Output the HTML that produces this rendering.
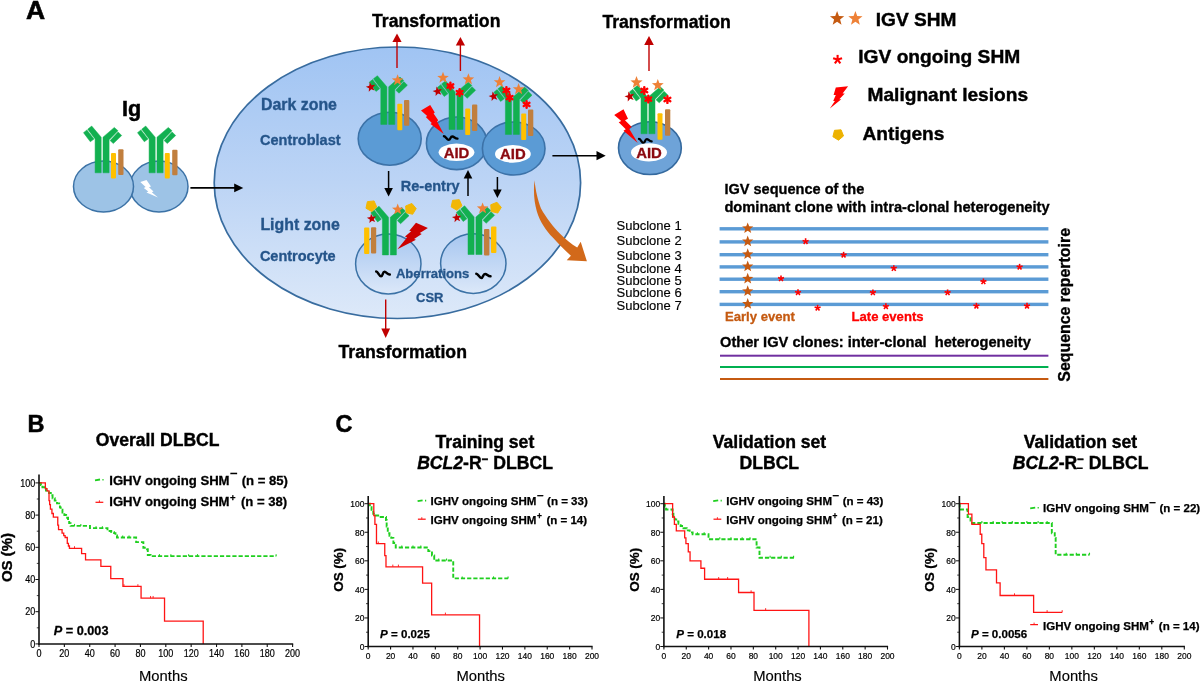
<!DOCTYPE html>
<html><head><meta charset="utf-8"><title>Figure</title>
<style>html,body{margin:0;padding:0;background:#fff}svg{display:block}text{font-family:"Liberation Sans",Arial,sans-serif}</style>
</head><body>
<svg width="1200" height="682" viewBox="0 0 1200 682">
<defs>
<linearGradient id="gc" x1="0" y1="0" x2="0" y2="1">
<stop offset="0" stop-color="#A0C4F3"/><stop offset="0.5" stop-color="#BCD4F5"/><stop offset="1" stop-color="#DDE9F9"/>
</linearGradient>
<linearGradient id="lz" x1="0" y1="0" x2="0" y2="1">
<stop offset="0" stop-color="#A6C6F0"/><stop offset="1" stop-color="#DCE8F9"/>
</linearGradient>
</defs>
<rect width="1200" height="682" fill="#fff"/>

<text x="26" y="19" font-size="26.5" font-weight="bold" fill="#000" stroke="#000" stroke-width="0.58" text-anchor="start" >A</text>
<text x="122" y="116" font-size="21.6" font-weight="bold" fill="#000" stroke="#000" stroke-width="0.48" text-anchor="start" >Ig</text>
<ellipse cx="397.4" cy="182.75" rx="183.2" ry="135.75" fill="url(#gc)" stroke="#386C9F" stroke-width="1.7"/>
<ellipse cx="159" cy="186.5" rx="29" ry="25.5" fill="#9DC3E6" stroke="#3B72A6" stroke-width="1.5"/>
<ellipse cx="103.5" cy="186.5" rx="30" ry="25.5" fill="#9DC3E6" stroke="#3B72A6" stroke-width="1.5"/>
<g fill="#12B050" stroke="#12B050" stroke-width="0.5" stroke-linejoin="round"><polygon points="101.20,172.80 95.10,172.80 95.10,138.95 87.70,129.15 91.70,126.05 101.20,137.15"/><polygon points="83.50,132.65 86.90,129.95 94.00,139.05 90.30,141.75"/><polygon points="103.00,172.80 109.10,172.80 109.10,139.85 118.00,130.75 114.30,127.45 103.00,137.15"/><polygon points="118.10,131.95 121.70,135.55 113.30,143.55 110.10,140.55"/></g>
<rect x="111" y="153" width="5" height="25.599999999999994" rx="1" fill="#FFC000"/><rect x="118.2" y="149.3" width="5.3" height="25.599999999999994" rx="1" fill="#C17F3E"/>
<g fill="#12B050" stroke="#12B050" stroke-width="0.5" stroke-linejoin="round"><polygon points="155.20,172.80 149.10,172.80 149.10,138.95 141.70,129.15 145.70,126.05 155.20,137.15"/><polygon points="137.50,132.65 140.90,129.95 148.00,139.05 144.30,141.75"/><polygon points="157.00,172.80 163.10,172.80 163.10,139.85 172.00,130.75 168.30,127.45 157.00,137.15"/><polygon points="172.10,131.95 175.70,135.55 167.30,143.55 164.10,140.55"/></g>
<rect x="164.8" y="153" width="5" height="25.599999999999994" rx="1" fill="#FFC000"/><rect x="172.2" y="149.8" width="5.3" height="25.399999999999977" rx="1" fill="#C17F3E"/>
<polygon points="140.3,182 146.5,180 151,186.5 149,187.3 153.5,191.5 151.8,192.3 158,197.5 146.5,192.5 148.3,191.5 143.8,188 145.6,187" fill="#fff"/>
<line x1="190.4" y1="187.9" x2="235.20" y2="187.90" stroke="#000" stroke-width="1.6"/><polygon points="243.30,187.90 234.20,192.20 234.20,183.60" fill="#000"/>
<text x="261" y="109.7" font-size="15.9" font-weight="bold" fill="#25558A" stroke="#25558A" stroke-width="0.35" text-anchor="start" >Dark zone</text>
<text x="260" y="144.5" font-size="14.5" font-weight="bold" fill="#25558A" stroke="#25558A" stroke-width="0.32" text-anchor="start" >Centroblast</text>
<text x="260.4" y="230.4" font-size="15.9" font-weight="bold" fill="#25558A" stroke="#25558A" stroke-width="0.35" text-anchor="start" >Light zone</text>
<text x="259.9" y="260.6" font-size="14.5" font-weight="bold" fill="#25558A" stroke="#25558A" stroke-width="0.32" text-anchor="start" >Centrocyte</text>
<text x="372" y="26.8" font-size="17.65" font-weight="bold" fill="#000" stroke="#000" stroke-width="0.39" text-anchor="start" >Transformation</text>
<text x="602.4" y="28.3" font-size="17.65" font-weight="bold" fill="#000" stroke="#000" stroke-width="0.39" text-anchor="start" >Transformation</text>
<text x="338.5" y="357.8" font-size="17.65" font-weight="bold" fill="#000" stroke="#000" stroke-width="0.39" text-anchor="start" >Transformation</text>
<line x1="397" y1="68" x2="397.00" y2="41.00" stroke="#C00000" stroke-width="1.4"/><polygon points="397.00,33.60 401.60,42.00 392.40,42.00" fill="#C00000"/>
<line x1="460.4" y1="71" x2="460.40" y2="44.60" stroke="#C00000" stroke-width="1.4"/><polygon points="460.40,37.00 465.00,45.60 455.80,45.60" fill="#C00000"/>
<line x1="649" y1="71" x2="649.00" y2="44.00" stroke="#C00000" stroke-width="1.4"/><polygon points="649.00,36.00 653.80,45.00 644.20,45.00" fill="#C00000"/>
<line x1="385.7" y1="299.6" x2="385.70" y2="329.40" stroke="#C00000" stroke-width="1.4"/><polygon points="385.70,337.90 381.30,328.40 390.10,328.40" fill="#C00000"/>
<ellipse cx="389.7" cy="138.7" rx="31.5" ry="26.5" fill="#5B9BD5" stroke="#3C72A8" stroke-width="1.6"/>
<ellipse cx="456.7" cy="143.3" rx="30.3" ry="26.3" fill="#5B9BD5" stroke="#3C72A8" stroke-width="1.6"/>
<ellipse cx="513.7" cy="148.5" rx="31.3" ry="26.5" fill="#5B9BD5" stroke="#3C72A8" stroke-width="1.6"/>
<ellipse cx="388.3" cy="263.9" rx="32.7" ry="30" fill="url(#lz)" stroke="#3B72A6" stroke-width="1.5"/>
<ellipse cx="473.3" cy="263.6" rx="32.7" ry="29.8" fill="url(#lz)" stroke="#3B72A6" stroke-width="1.5"/>
<g fill="#12B050" stroke="#12B050" stroke-width="0.5" stroke-linejoin="round"><polygon points="386.90,124.40 380.80,124.40 380.80,88.60 373.40,78.80 377.40,75.70 386.90,86.80"/><polygon points="369.20,82.30 372.60,79.60 379.70,88.70 376.00,91.40"/><polygon points="388.70,124.40 394.80,124.40 394.80,89.50 403.70,80.40 400.00,77.10 388.70,86.80"/><polygon points="403.80,81.60 407.40,85.20 399.00,93.20 395.80,90.20"/></g>
<rect x="397.3" y="103.7" width="5" height="26.499999999999986" rx="1" fill="#FFC000"/><rect x="404" y="100" width="5.3" height="25.700000000000003" rx="1" fill="#C17F3E"/>
<polygon points="369.76,82.31 371.65,85.28 375.13,84.70 372.89,87.42 374.52,90.55 371.24,89.25 368.77,91.77 368.98,88.25 365.83,86.68 369.24,85.79" fill="#C00000"/>
<polygon points="397.60,74.20 399.11,78.23 403.40,78.41 400.04,81.09 401.19,85.24 397.60,82.86 394.01,85.24 395.16,81.09 391.80,78.41 396.09,78.23" fill="#EE8137"/>
<g fill="#12B050" stroke="#12B050" stroke-width="0.5" stroke-linejoin="round"><polygon points="455.10,129.50 449.00,129.50 449.00,93.70 441.60,83.90 445.60,80.80 455.10,91.90"/><polygon points="437.40,87.40 440.80,84.70 447.90,93.80 444.20,96.50"/><polygon points="456.90,129.50 463.00,129.50 463.00,94.60 471.90,85.50 468.20,82.20 456.90,91.90"/><polygon points="472.00,86.70 475.60,90.30 467.20,98.30 464.00,95.30"/></g>
<rect x="465.2" y="108.6" width="5" height="26.400000000000006" rx="1" fill="#FFC000"/><rect x="472" y="104.6" width="5.3" height="26.400000000000006" rx="1" fill="#C17F3E"/>
<polygon points="443.00,71.70 444.51,75.73 448.80,75.91 445.44,78.59 446.59,82.74 443.00,80.36 439.41,82.74 440.56,78.59 437.20,75.91 441.49,75.73" fill="#EE8137"/>
<polygon points="468.40,73.30 469.91,77.33 474.20,77.51 470.84,80.19 471.99,84.34 468.40,81.96 464.81,84.34 465.96,80.19 462.60,77.51 466.89,77.33" fill="#EE8137"/>
<polygon points="436.56,86.51 438.45,89.48 441.93,88.90 439.69,91.62 441.32,94.75 438.04,93.45 435.57,95.97 435.78,92.45 432.63,90.88 436.04,89.99" fill="#C00000"/>
<g stroke="#FF0000" stroke-width="2.4" stroke-linecap="round"><line x1="450.40" y1="86.00" x2="450.40" y2="82.70"/><line x1="450.40" y1="86.00" x2="453.26" y2="84.35"/><line x1="450.40" y1="86.00" x2="453.26" y2="87.65"/><line x1="450.40" y1="86.00" x2="450.40" y2="89.30"/><line x1="450.40" y1="86.00" x2="447.54" y2="87.65"/><line x1="450.40" y1="86.00" x2="447.54" y2="84.35"/></g>
<g stroke="#FF0000" stroke-width="2.4" stroke-linecap="round"><line x1="459.60" y1="92.60" x2="459.60" y2="89.30"/><line x1="459.60" y1="92.60" x2="462.46" y2="90.95"/><line x1="459.60" y1="92.60" x2="462.46" y2="94.25"/><line x1="459.60" y1="92.60" x2="459.60" y2="95.90"/><line x1="459.60" y1="92.60" x2="456.74" y2="94.25"/><line x1="459.60" y1="92.60" x2="456.74" y2="90.95"/></g>
<polygon points="421.00,110.40 430.20,104.90 434.80,112.60 433.60,113.50 438.20,120.30 437.10,121.40 443.75,133.90 430.50,124.00 431.80,122.90 425.80,117.00 427.20,115.90" fill="#FF0000"/>
<path d="M443.90,136.26 C445.77,136.26 446.76,139.94 448.73,139.94 C450.70,139.94 450.11,136.49 452.28,136.49 C454.25,136.49 455.04,138.71 457.50,138.56" fill="none" stroke="#000" stroke-width="2.3" stroke-linecap="round" stroke-linejoin="round"/>
<g fill="#12B050" stroke="#12B050" stroke-width="0.5" stroke-linejoin="round"><polygon points="511.50,134.40 505.40,134.40 505.40,98.60 498.00,88.80 502.00,85.70 511.50,96.80"/><polygon points="493.80,92.30 497.20,89.60 504.30,98.70 500.60,101.40"/><polygon points="513.30,134.40 519.40,134.40 519.40,99.50 528.30,90.40 524.60,87.10 513.30,96.80"/><polygon points="528.40,91.60 532.00,95.20 523.60,103.20 520.40,100.20"/></g>
<rect x="521.2" y="113.6" width="5" height="26.400000000000006" rx="1" fill="#FFC000"/><rect x="528" y="109.6" width="5.3" height="26.400000000000006" rx="1" fill="#C17F3E"/>
<polygon points="499.60,76.10 501.11,80.13 505.40,80.31 502.04,82.99 503.19,87.14 499.60,84.76 496.01,87.14 497.16,82.99 493.80,80.31 498.09,80.13" fill="#EE8137"/>
<polygon points="518.60,83.10 520.11,87.13 524.40,87.31 521.04,89.99 522.19,94.14 518.60,91.76 515.01,94.14 516.16,89.99 512.80,87.31 517.09,87.13" fill="#EE8137"/>
<polygon points="492.56,91.51 494.45,94.48 497.93,93.90 495.69,96.62 497.32,99.75 494.04,98.45 491.57,100.97 491.78,97.45 488.63,95.88 492.04,94.99" fill="#C00000"/>
<g stroke="#FF0000" stroke-width="2.4" stroke-linecap="round"><line x1="506.40" y1="90.40" x2="506.40" y2="87.10"/><line x1="506.40" y1="90.40" x2="509.26" y2="88.75"/><line x1="506.40" y1="90.40" x2="509.26" y2="92.05"/><line x1="506.40" y1="90.40" x2="506.40" y2="93.70"/><line x1="506.40" y1="90.40" x2="503.54" y2="92.05"/><line x1="506.40" y1="90.40" x2="503.54" y2="88.75"/></g>
<g stroke="#FF0000" stroke-width="2.4" stroke-linecap="round"><line x1="509.60" y1="97.60" x2="509.60" y2="94.30"/><line x1="509.60" y1="97.60" x2="512.46" y2="95.95"/><line x1="509.60" y1="97.60" x2="512.46" y2="99.25"/><line x1="509.60" y1="97.60" x2="509.60" y2="100.90"/><line x1="509.60" y1="97.60" x2="506.74" y2="99.25"/><line x1="509.60" y1="97.60" x2="506.74" y2="95.95"/></g>
<g stroke="#FF0000" stroke-width="2.4" stroke-linecap="round"><line x1="526.60" y1="104.40" x2="526.60" y2="101.10"/><line x1="526.60" y1="104.40" x2="529.46" y2="102.75"/><line x1="526.60" y1="104.40" x2="529.46" y2="106.05"/><line x1="526.60" y1="104.40" x2="526.60" y2="107.70"/><line x1="526.60" y1="104.40" x2="523.74" y2="106.05"/><line x1="526.60" y1="104.40" x2="523.74" y2="102.75"/></g>
<ellipse cx="456.5" cy="152.3" rx="17.9" ry="8.7" fill="#fff"/><text x="456.5" y="157.65" font-size="14.9" font-weight="bold" fill="#8B0A10" stroke="#8B0A10" stroke-width="0.33" text-anchor="middle" >AID</text>
<ellipse cx="512.9" cy="153.9" rx="17.9" ry="8.8" fill="#fff"/><text x="512.9" y="159.25" font-size="14.9" font-weight="bold" fill="#8B0A10" stroke="#8B0A10" stroke-width="0.33" text-anchor="middle" >AID</text>
<line x1="388.6" y1="171" x2="388.60" y2="189.00" stroke="#000" stroke-width="1.5"/><polygon points="388.60,196.40 384.30,188.00 392.90,188.00" fill="#000"/>
<line x1="468" y1="196" x2="468.00" y2="177.60" stroke="#000" stroke-width="1.5"/><polygon points="468.00,170.00 472.30,178.60 463.70,178.60" fill="#000"/>
<line x1="497.4" y1="177" x2="497.40" y2="190.60" stroke="#000" stroke-width="1.5"/><polygon points="497.40,198.00 493.10,189.60 501.70,189.60" fill="#000"/>
<text x="400.8" y="191.2" font-size="14.5" font-weight="bold" fill="#25558A" stroke="#25558A" stroke-width="0.32" text-anchor="start" >Re-entry</text>
<line x1="552.4" y1="155.7" x2="597.50" y2="155.70" stroke="#000" stroke-width="1.6"/><polygon points="605.70,155.70 596.50,160.30 596.50,151.10" fill="#000"/>
<g fill="#12B050" stroke="#12B050" stroke-width="0.5" stroke-linejoin="round"><polygon points="388.50,254.90 382.40,254.90 382.40,219.10 375.00,209.30 379.00,206.20 388.50,217.30"/><polygon points="370.80,212.80 374.20,210.10 381.30,219.20 377.60,221.90"/><polygon points="390.30,254.90 396.40,254.90 396.40,220.00 405.30,210.90 401.60,207.60 390.30,217.30"/><polygon points="405.40,212.10 409.00,215.70 400.60,223.70 397.40,220.70"/></g>
<rect x="364.1" y="227.4" width="5.2" height="26.7" rx="1" fill="#FFC000"/><rect x="371" y="227.2" width="5.2" height="26.2" rx="1" fill="#C17F3E"/>
<polygon points="371.80,211.57 365.99,208.22 367.39,201.66 374.05,200.96 376.78,207.09" fill="#F2B705" stroke="#F2B705" stroke-width="1" stroke-linejoin="round"/>
<polygon points="411.88,203.47 416.19,208.60 412.64,214.28 406.13,212.66 405.67,205.98" fill="#F2B705" stroke="#F2B705" stroke-width="1" stroke-linejoin="round"/>
<polygon points="397.70,203.50 399.18,207.46 403.41,207.65 400.10,210.28 401.23,214.35 397.70,212.02 394.17,214.35 395.30,210.28 391.99,207.65 396.22,207.46" fill="#EE8137"/>
<polygon points="371.02,213.75 372.67,216.78 376.10,216.45 373.73,218.96 375.10,222.12 371.99,220.64 369.40,222.93 369.85,219.50 366.87,217.75 370.27,217.12" fill="#C00000"/>
<polygon points="416.00,222.80 409.30,230.70 411.20,231.20 405.00,236.50 407.00,237.40 397.40,249.30 416.00,239.80 414.10,238.90 421.70,234.10 419.80,233.10 427.90,227.90" fill="#CC0000"/>
<g fill="#12B050" stroke="#12B050" stroke-width="0.5" stroke-linejoin="round"><polygon points="474.10,254.50 468.00,254.50 468.00,218.70 460.60,208.90 464.60,205.80 474.10,216.90"/><polygon points="456.40,212.40 459.80,209.70 466.90,218.80 463.20,221.50"/><polygon points="475.90,254.50 482.00,254.50 482.00,219.60 490.90,210.50 487.20,207.20 475.90,216.90"/><polygon points="491.00,211.70 494.60,215.30 486.20,223.30 483.00,220.30"/></g>
<rect x="484" y="229" width="5.4" height="26.6" rx="1" fill="#C17F3E"/><rect x="491" y="226.4" width="5.4" height="26.6" rx="1" fill="#FFC000"/>
<polygon points="457.00,210.27 451.19,206.92 452.59,200.36 459.25,199.66 461.98,205.79" fill="#F2B705" stroke="#F2B705" stroke-width="1" stroke-linejoin="round"/>
<polygon points="496.98,202.27 501.29,207.40 497.74,213.08 491.23,211.46 490.77,204.78" fill="#F2B705" stroke="#F2B705" stroke-width="1" stroke-linejoin="round"/>
<polygon points="482.60,202.40 484.08,206.36 488.31,206.55 485.00,209.18 486.13,213.25 482.60,210.92 479.07,213.25 480.20,209.18 476.89,206.55 481.12,206.36" fill="#EE8137"/>
<polygon points="456.12,212.95 457.77,215.98 461.20,215.65 458.83,218.16 460.20,221.32 457.09,219.84 454.50,222.13 454.95,218.70 451.97,216.95 455.37,216.32" fill="#C00000"/>
<path d="M376.20,271.50 C378.07,271.50 379.06,276.30 381.03,276.30 C383.00,276.30 382.41,271.80 384.58,271.80 C386.55,271.80 387.34,274.70 389.80,274.50" fill="none" stroke="#000" stroke-width="2.5" stroke-linecap="round" stroke-linejoin="round"/>
<path d="M476.31,273.72 C478.26,273.72 479.29,277.88 481.34,277.88 C483.40,277.88 482.78,273.98 485.04,273.98 C487.10,273.98 487.92,276.49 490.49,276.32" fill="none" stroke="#000" stroke-width="2.5" stroke-linecap="round" stroke-linejoin="round"/>
<text x="395.9" y="278.4" font-size="13.1" font-weight="bold" fill="#25558A" stroke="#25558A" stroke-width="0.29" text-anchor="start" >Aberrations</text>
<text x="416" y="301.8" font-size="13" font-weight="bold" fill="#25558A" stroke="#25558A" stroke-width="0.29" text-anchor="start" >CSR</text>
<path d="M534.5,180.3 C533.2,192 534.3,202.5 536.8,211.2 C540,222 546,230.5 552.8,237.6 C558.5,243.8 565,250.8 570.9,255.7 L566.75,260.2 L586.9,261.3 L580.7,241.8 L577.2,247.6 C571.5,243.8 565,238.8 559.8,233.4 C553.5,227 546,217.5 541,208.4 C538,201 535.6,191 534.5,180.3 Z" fill="#D2691A"/>
<ellipse cx="649.9" cy="148.1" rx="31.4" ry="26.4" fill="#6EA3D8" stroke="#34699E" stroke-width="1.6"/>
<g fill="#12B050" stroke="#12B050" stroke-width="0.5" stroke-linejoin="round"><polygon points="647.10,133.75 641.00,133.75 641.00,98.25 633.60,88.45 637.60,85.35 647.10,96.45"/><polygon points="629.40,91.95 632.80,89.25 639.90,98.35 636.20,101.05"/><polygon points="648.90,133.75 655.00,133.75 655.00,99.15 663.90,90.05 660.20,86.75 648.90,96.45"/><polygon points="664.00,91.25 667.60,94.85 659.20,102.85 656.00,99.85"/></g>
<rect x="657.5" y="113.2" width="5" height="26.549999999999997" rx="1" fill="#FFC000"/><rect x="665" y="109.3" width="5.3" height="26.39999999999999" rx="1" fill="#C17F3E"/>
<polygon points="636.50,76.10 638.08,80.33 642.59,80.52 639.06,83.33 640.26,87.68 636.50,85.19 632.74,87.68 633.94,83.33 630.41,80.52 634.92,80.33" fill="#EE8137"/>
<polygon points="657.80,79.00 659.33,83.09 663.70,83.28 660.28,86.00 661.44,90.22 657.80,87.80 654.16,90.22 655.32,86.00 651.90,83.28 656.27,83.09" fill="#EE8137"/>
<polygon points="628.44,91.55 630.52,94.58 634.11,93.84 631.88,96.75 633.68,99.94 630.23,98.72 627.75,101.42 627.85,97.76 624.51,96.24 628.03,95.20" fill="#C00000"/>
<g stroke="#FF0000" stroke-width="2.4" stroke-linecap="round"><line x1="644.30" y1="90.50" x2="644.30" y2="87.10"/><line x1="644.30" y1="90.50" x2="647.24" y2="88.80"/><line x1="644.30" y1="90.50" x2="647.24" y2="92.20"/><line x1="644.30" y1="90.50" x2="644.30" y2="93.90"/><line x1="644.30" y1="90.50" x2="641.36" y2="92.20"/><line x1="644.30" y1="90.50" x2="641.36" y2="88.80"/></g>
<g stroke="#FF0000" stroke-width="2.4" stroke-linecap="round"><line x1="648.30" y1="99.10" x2="648.30" y2="95.80"/><line x1="648.30" y1="99.10" x2="651.16" y2="97.45"/><line x1="648.30" y1="99.10" x2="651.16" y2="100.75"/><line x1="648.30" y1="99.10" x2="648.30" y2="102.40"/><line x1="648.30" y1="99.10" x2="645.44" y2="100.75"/><line x1="648.30" y1="99.10" x2="645.44" y2="97.45"/></g>
<g stroke="#FF0000" stroke-width="2.4" stroke-linecap="round"><line x1="667.40" y1="99.50" x2="667.40" y2="96.10"/><line x1="667.40" y1="99.50" x2="670.34" y2="97.80"/><line x1="667.40" y1="99.50" x2="670.34" y2="101.20"/><line x1="667.40" y1="99.50" x2="667.40" y2="102.90"/><line x1="667.40" y1="99.50" x2="664.46" y2="101.20"/><line x1="667.40" y1="99.50" x2="664.46" y2="97.80"/></g>
<polygon points="614.20,115.00 623.50,109.30 628.00,118.75 625.00,120.25 631.75,127.00 629.20,128.80 637.75,143.00 623.50,130.75 625.75,129.25 618.70,122.20 621.25,121.00" fill="#FF0000"/>
<path d="M638.98,138.90 C640.72,138.90 641.63,142.90 643.47,142.90 C645.30,142.90 644.75,139.15 646.77,139.15 C648.60,139.15 649.33,141.57 651.62,141.40" fill="none" stroke="#000" stroke-width="2.3" stroke-linecap="round" stroke-linejoin="round"/>
<ellipse cx="649" cy="152.4" rx="18" ry="9.1" fill="#fff"/><text x="649" y="157.75" font-size="14.9" font-weight="bold" fill="#8B0A10" stroke="#8B0A10" stroke-width="0.33" text-anchor="middle" >AID</text>
<polygon points="837.10,11.10 838.95,16.05 844.23,16.28 840.10,19.57 841.51,24.67 837.10,21.75 832.69,24.67 834.10,19.57 829.97,16.28 835.25,16.05" fill="#C55A11"/>
<polygon points="855.40,11.10 857.25,16.05 862.53,16.28 858.40,19.57 859.81,24.67 855.40,21.75 850.99,24.67 852.40,19.57 848.27,16.28 853.55,16.05" fill="#EE8137"/>
<text x="875.75" y="25.75" font-size="19.1" font-weight="bold" fill="#000" stroke="#000" stroke-width="0.42" text-anchor="start" >IGV SHM</text>
<g stroke="#FF0000" stroke-width="2.1" stroke-linecap="butt"><line x1="837.60" y1="59.60" x2="837.60" y2="54.90"/><line x1="837.60" y1="59.60" x2="842.07" y2="58.15"/><line x1="837.60" y1="59.60" x2="840.36" y2="63.40"/><line x1="837.60" y1="59.60" x2="834.84" y2="63.40"/><line x1="837.60" y1="59.60" x2="833.13" y2="58.15"/></g>
<text x="858.25" y="63" font-size="19.2" font-weight="bold" fill="#000" stroke="#000" stroke-width="0.42" text-anchor="start" >IGV ongoing SHM</text>
<polygon points="835.80,87.50 848.10,86.20 842.60,93.40 844.80,93.40 839.30,99.30 841.30,99.30 829.90,108.40 834.90,101.10 833.20,101.10 835.80,94.90 833.60,94.90" fill="#FF0000"/>
<text x="867.5" y="100.5" font-size="19.15" font-weight="bold" fill="#000" stroke="#000" stroke-width="0.42" text-anchor="start" >Malignant lesions</text>
<polygon points="838.49,140.19 832.91,136.70 834.50,130.31 841.07,129.85 843.53,135.95" fill="#EDB200" stroke="#EDB200" stroke-width="1" stroke-linejoin="round"/>
<text x="862.5" y="139.5" font-size="19.15" font-weight="bold" fill="#000" stroke="#000" stroke-width="0.42" text-anchor="start" >Antigens</text>
<text x="616.6" y="230" font-size="13" font-weight="normal" fill="#000" stroke="#000" stroke-width="0.15" text-anchor="start" >Subclone 1</text>
<text x="616.6" y="245" font-size="13" font-weight="normal" fill="#000" stroke="#000" stroke-width="0.15" text-anchor="start" >Subclone 2</text>
<text x="616.6" y="259.7" font-size="13" font-weight="normal" fill="#000" stroke="#000" stroke-width="0.15" text-anchor="start" >Subclone 3</text>
<text x="616.6" y="273.1" font-size="13" font-weight="normal" fill="#000" stroke="#000" stroke-width="0.15" text-anchor="start" >Subclone 4</text>
<text x="616.6" y="284.5" font-size="13" font-weight="normal" fill="#000" stroke="#000" stroke-width="0.15" text-anchor="start" >Subclone 5</text>
<text x="616.6" y="296.5" font-size="13" font-weight="normal" fill="#000" stroke="#000" stroke-width="0.15" text-anchor="start" >Subclone 6</text>
<text x="616.6" y="310.4" font-size="13" font-weight="normal" fill="#000" stroke="#000" stroke-width="0.15" text-anchor="start" >Subclone 7</text>
<text x="724.4" y="194.4" font-size="14.56" font-weight="bold" fill="#000" stroke="#000" stroke-width="0.32" text-anchor="start" >IGV sequence of the</text>
<text x="724.4" y="211.6" font-size="14.68" font-weight="bold" fill="#000" stroke="#000" stroke-width="0.32" text-anchor="start" >dominant clone with intra-clonal heterogeneity</text>
<rect x="719.6" y="227.10" width="328.8" height="3.4" fill="#5B9BD5"/>
<polygon points="747.70,222.40 749.16,226.30 753.31,226.48 750.06,229.07 751.17,233.07 747.70,230.78 744.23,233.07 745.34,229.07 742.09,226.48 746.24,226.30" fill="#C55A11"/>
<rect x="719.6" y="240.20" width="328.8" height="3.4" fill="#5B9BD5"/>
<polygon points="747.70,235.50 749.16,239.40 753.31,239.58 750.06,242.17 751.17,246.17 747.70,243.88 744.23,246.17 745.34,242.17 742.09,239.58 746.24,239.40" fill="#C55A11"/>
<rect x="719.6" y="253.00" width="328.8" height="3.4" fill="#5B9BD5"/>
<polygon points="747.70,248.30 749.16,252.20 753.31,252.38 750.06,254.97 751.17,258.97 747.70,256.68 744.23,258.97 745.34,254.97 742.09,252.38 746.24,252.20" fill="#C55A11"/>
<rect x="719.6" y="265.20" width="328.8" height="3.4" fill="#5B9BD5"/>
<polygon points="747.70,260.50 749.16,264.40 753.31,264.58 750.06,267.17 751.17,271.17 747.70,268.88 744.23,271.17 745.34,267.17 742.09,264.58 746.24,264.40" fill="#C55A11"/>
<rect x="719.6" y="277.50" width="328.8" height="3.4" fill="#5B9BD5"/>
<polygon points="747.70,272.80 749.16,276.70 753.31,276.88 750.06,279.47 751.17,283.47 747.70,281.18 744.23,283.47 745.34,279.47 742.09,276.88 746.24,276.70" fill="#C55A11"/>
<rect x="719.6" y="290.00" width="328.8" height="3.4" fill="#5B9BD5"/>
<polygon points="747.70,285.30 749.16,289.20 753.31,289.38 750.06,291.97 751.17,295.97 747.70,293.68 744.23,295.97 745.34,291.97 742.09,289.38 746.24,289.20" fill="#C55A11"/>
<rect x="719.6" y="302.70" width="328.8" height="3.4" fill="#5B9BD5"/>
<polygon points="747.70,298.00 749.16,301.90 753.31,302.08 750.06,304.67 751.17,308.67 747.70,306.38 744.23,308.67 745.34,304.67 742.09,302.08 746.24,301.90" fill="#C55A11"/>
<g stroke="#FF0000" stroke-width="1.6" stroke-linecap="butt"><line x1="805.60" y1="241.40" x2="805.60" y2="238.25"/><line x1="805.60" y1="241.40" x2="808.60" y2="240.43"/><line x1="805.60" y1="241.40" x2="807.45" y2="243.95"/><line x1="805.60" y1="241.40" x2="803.75" y2="243.95"/><line x1="805.60" y1="241.40" x2="802.60" y2="240.43"/></g>
<g stroke="#FF0000" stroke-width="1.6" stroke-linecap="butt"><line x1="843.60" y1="255.00" x2="843.60" y2="251.85"/><line x1="843.60" y1="255.00" x2="846.60" y2="254.03"/><line x1="843.60" y1="255.00" x2="845.45" y2="257.55"/><line x1="843.60" y1="255.00" x2="841.75" y2="257.55"/><line x1="843.60" y1="255.00" x2="840.60" y2="254.03"/></g>
<g stroke="#FF0000" stroke-width="1.6" stroke-linecap="butt"><line x1="893.80" y1="268.30" x2="893.80" y2="265.15"/><line x1="893.80" y1="268.30" x2="896.80" y2="267.33"/><line x1="893.80" y1="268.30" x2="895.65" y2="270.85"/><line x1="893.80" y1="268.30" x2="891.95" y2="270.85"/><line x1="893.80" y1="268.30" x2="890.80" y2="267.33"/></g>
<g stroke="#FF0000" stroke-width="1.6" stroke-linecap="butt"><line x1="1019.60" y1="267.00" x2="1019.60" y2="263.85"/><line x1="1019.60" y1="267.00" x2="1022.60" y2="266.03"/><line x1="1019.60" y1="267.00" x2="1021.45" y2="269.55"/><line x1="1019.60" y1="267.00" x2="1017.75" y2="269.55"/><line x1="1019.60" y1="267.00" x2="1016.60" y2="266.03"/></g>
<g stroke="#FF0000" stroke-width="1.6" stroke-linecap="butt"><line x1="781.00" y1="278.60" x2="781.00" y2="275.45"/><line x1="781.00" y1="278.60" x2="784.00" y2="277.63"/><line x1="781.00" y1="278.60" x2="782.85" y2="281.15"/><line x1="781.00" y1="278.60" x2="779.15" y2="281.15"/><line x1="781.00" y1="278.60" x2="778.00" y2="277.63"/></g>
<g stroke="#FF0000" stroke-width="1.6" stroke-linecap="butt"><line x1="983.40" y1="281.60" x2="983.40" y2="278.45"/><line x1="983.40" y1="281.60" x2="986.40" y2="280.63"/><line x1="983.40" y1="281.60" x2="985.25" y2="284.15"/><line x1="983.40" y1="281.60" x2="981.55" y2="284.15"/><line x1="983.40" y1="281.60" x2="980.40" y2="280.63"/></g>
<g stroke="#FF0000" stroke-width="1.6" stroke-linecap="butt"><line x1="798.00" y1="292.40" x2="798.00" y2="289.25"/><line x1="798.00" y1="292.40" x2="801.00" y2="291.43"/><line x1="798.00" y1="292.40" x2="799.85" y2="294.95"/><line x1="798.00" y1="292.40" x2="796.15" y2="294.95"/><line x1="798.00" y1="292.40" x2="795.00" y2="291.43"/></g>
<g stroke="#FF0000" stroke-width="1.6" stroke-linecap="butt"><line x1="872.90" y1="292.60" x2="872.90" y2="289.45"/><line x1="872.90" y1="292.60" x2="875.90" y2="291.63"/><line x1="872.90" y1="292.60" x2="874.75" y2="295.15"/><line x1="872.90" y1="292.60" x2="871.05" y2="295.15"/><line x1="872.90" y1="292.60" x2="869.90" y2="291.63"/></g>
<g stroke="#FF0000" stroke-width="1.6" stroke-linecap="butt"><line x1="947.60" y1="292.60" x2="947.60" y2="289.45"/><line x1="947.60" y1="292.60" x2="950.60" y2="291.63"/><line x1="947.60" y1="292.60" x2="949.45" y2="295.15"/><line x1="947.60" y1="292.60" x2="945.75" y2="295.15"/><line x1="947.60" y1="292.60" x2="944.60" y2="291.63"/></g>
<g stroke="#FF0000" stroke-width="1.6" stroke-linecap="butt"><line x1="817.60" y1="308.00" x2="817.60" y2="304.85"/><line x1="817.60" y1="308.00" x2="820.60" y2="307.03"/><line x1="817.60" y1="308.00" x2="819.45" y2="310.55"/><line x1="817.60" y1="308.00" x2="815.75" y2="310.55"/><line x1="817.60" y1="308.00" x2="814.60" y2="307.03"/></g>
<g stroke="#FF0000" stroke-width="1.6" stroke-linecap="butt"><line x1="885.90" y1="306.40" x2="885.90" y2="303.25"/><line x1="885.90" y1="306.40" x2="888.90" y2="305.43"/><line x1="885.90" y1="306.40" x2="887.75" y2="308.95"/><line x1="885.90" y1="306.40" x2="884.05" y2="308.95"/><line x1="885.90" y1="306.40" x2="882.90" y2="305.43"/></g>
<g stroke="#FF0000" stroke-width="1.6" stroke-linecap="butt"><line x1="976.40" y1="306.00" x2="976.40" y2="302.85"/><line x1="976.40" y1="306.00" x2="979.40" y2="305.03"/><line x1="976.40" y1="306.00" x2="978.25" y2="308.55"/><line x1="976.40" y1="306.00" x2="974.55" y2="308.55"/><line x1="976.40" y1="306.00" x2="973.40" y2="305.03"/></g>
<g stroke="#FF0000" stroke-width="1.6" stroke-linecap="butt"><line x1="1027.00" y1="306.00" x2="1027.00" y2="302.85"/><line x1="1027.00" y1="306.00" x2="1030.00" y2="305.03"/><line x1="1027.00" y1="306.00" x2="1028.85" y2="308.55"/><line x1="1027.00" y1="306.00" x2="1025.15" y2="308.55"/><line x1="1027.00" y1="306.00" x2="1024.00" y2="305.03"/></g>
<text x="725" y="321.4" font-size="13.1" font-weight="bold" fill="#C55A11" stroke="#C55A11" stroke-width="0.29" text-anchor="start" >Early event</text>
<text x="851.5" y="321.2" font-size="13.1" font-weight="bold" fill="#FF0000" stroke="#FF0000" stroke-width="0.29" text-anchor="start" >Late events</text>
<text x="720" y="346.7" font-size="14.65" font-weight="bold" fill="#000" stroke="#000" stroke-width="0.32" text-anchor="start" xml:space="preserve">Other IGV clones: inter-clonal  heterogeneity</text>
<rect x="720" y="354.7" width="328.4" height="2" fill="#7030A0"/>
<rect x="720" y="366.0" width="328.4" height="2" fill="#00B050"/>
<rect x="720" y="378.0" width="328.4" height="2" fill="#C55A11"/>
<text transform="translate(1069.5,381.7) rotate(-90)" font-size="15.9" font-weight="bold" stroke="#000" stroke-width="0.35">Sequence repertoire</text>
<path d="M39.00,482.90 H40.90 V485.15 H42.42 V487.25 H44.07 V488.70 H45.97 V490.63 H49.02 V493.04 H50.79 V495.30 H52.57 V498.19 H54.72 V500.61 H57.01 V503.35 H59.16 V504.80 H59.92 V507.37 H60.68 V509.79 H62.46 V512.52 H64.36 V514.94 H66.14 V517.68 H68.04 V520.09 H69.18 V523.15 H70.57 V525.89 H89.21 V525.89 H89.97 V528.14 H106.84 V528.14 H107.47 V531.04 H111.28 V532.17 H114.07 V533.13 H115.46 V535.39 H116.98 V537.48 H134.61 V537.48 H136.13 V542.15 H142.72 V542.15 H143.36 V547.78 H147.03 V549.23 H147.79 V555.03 H150.58 V556.15 H276.12" fill="none" stroke="#1FCF1F" stroke-width="1.9" stroke-dasharray="4.2 2.0"/><path d="M39.00,482.90 H45.34 V482.90 H45.34 V488.53 H46.99 V490.95 H49.02 V492.40 H49.02 V500.61 H49.65 V504.63 H50.41 V509.14 H51.93 V513.49 H53.33 V517.19 H57.77 V517.19 H57.77 V525.08 H58.53 V529.59 H62.08 V529.59 H62.08 V533.13 H63.73 V535.55 H65.12 V537.48 H66.52 V537.48 H67.28 V543.44 H68.42 V546.01 H69.43 V548.43 H81.22 V548.43 H81.60 V553.58 H85.28 V553.58 H85.54 V559.86 H100.62 V559.86 H100.88 V566.46 H110.64 V566.46 H110.77 V578.69 H122.69 V578.69 H122.94 V586.42 H140.82 V586.42 H141.07 V598.18 H164.28 V598.18 H164.53 V621.04 H203.21 V621.04 H203.21 V643.90" fill="none" stroke="#FF1414" stroke-width="1.3" stroke-linejoin="miter"/><line x1="74.50" y1="525.89" x2="74.50" y2="523.89" stroke="#1FCF1F" stroke-width="1.1"/><line x1="80.84" y1="525.89" x2="80.84" y2="523.89" stroke="#1FCF1F" stroke-width="1.1"/><line x1="96.06" y1="528.14" x2="96.06" y2="526.14" stroke="#1FCF1F" stroke-width="1.1"/><line x1="102.40" y1="528.14" x2="102.40" y2="526.14" stroke="#1FCF1F" stroke-width="1.1"/><line x1="122.69" y1="537.48" x2="122.69" y2="535.48" stroke="#1FCF1F" stroke-width="1.1"/><line x1="129.03" y1="537.48" x2="129.03" y2="535.48" stroke="#1FCF1F" stroke-width="1.1"/><line x1="159.46" y1="556.15" x2="159.46" y2="554.15" stroke="#1FCF1F" stroke-width="1.1"/><line x1="170.87" y1="556.15" x2="170.87" y2="554.15" stroke="#1FCF1F" stroke-width="1.1"/><line x1="188.62" y1="556.15" x2="188.62" y2="554.15" stroke="#1FCF1F" stroke-width="1.1"/><line x1="197.50" y1="556.15" x2="197.50" y2="554.15" stroke="#1FCF1F" stroke-width="1.1"/><line x1="276.12" y1="556.15" x2="276.12" y2="554.15" stroke="#1FCF1F" stroke-width="1.1"/><line x1="74.50" y1="548.43" x2="74.50" y2="546.23" stroke="#FF1414" stroke-width="0.9"/><line x1="123.96" y1="586.42" x2="123.96" y2="584.22" stroke="#FF1414" stroke-width="0.9"/><line x1="137.90" y1="586.42" x2="137.90" y2="584.22" stroke="#FF1414" stroke-width="0.9"/><line x1="150.58" y1="598.18" x2="150.58" y2="595.98" stroke="#FF1414" stroke-width="0.9"/><line x1="153.12" y1="598.18" x2="153.12" y2="595.98" stroke="#FF1414" stroke-width="0.9"/><line x1="39.0" y1="474.4" x2="39.0" y2="644.65" stroke="#111" stroke-width="1.6"/><line x1="38.2" y1="643.9" x2="293.20" y2="643.9" stroke="#111" stroke-width="1.5"/><line x1="35.4" y1="643.90" x2="39.0" y2="643.90" stroke="#111" stroke-width="1.0"/><text transform="translate(35.20,647.63) scale(0.86,1)" font-size="10.5" fill="#000" stroke="#000" stroke-width="0.2" text-anchor="end">0</text><line x1="36.8" y1="627.80" x2="39.0" y2="627.80" stroke="#111" stroke-width="0.8"/><line x1="35.4" y1="611.70" x2="39.0" y2="611.70" stroke="#111" stroke-width="1.0"/><text transform="translate(35.20,615.43) scale(0.86,1)" font-size="10.5" fill="#000" stroke="#000" stroke-width="0.2" text-anchor="end">20</text><line x1="36.8" y1="595.60" x2="39.0" y2="595.60" stroke="#111" stroke-width="0.8"/><line x1="35.4" y1="579.50" x2="39.0" y2="579.50" stroke="#111" stroke-width="1.0"/><text transform="translate(35.20,583.23) scale(0.86,1)" font-size="10.5" fill="#000" stroke="#000" stroke-width="0.2" text-anchor="end">40</text><line x1="36.8" y1="563.40" x2="39.0" y2="563.40" stroke="#111" stroke-width="0.8"/><line x1="35.4" y1="547.30" x2="39.0" y2="547.30" stroke="#111" stroke-width="1.0"/><text transform="translate(35.20,551.03) scale(0.86,1)" font-size="10.5" fill="#000" stroke="#000" stroke-width="0.2" text-anchor="end">60</text><line x1="36.8" y1="531.20" x2="39.0" y2="531.20" stroke="#111" stroke-width="0.8"/><line x1="35.4" y1="515.10" x2="39.0" y2="515.10" stroke="#111" stroke-width="1.0"/><text transform="translate(35.20,518.83) scale(0.86,1)" font-size="10.5" fill="#000" stroke="#000" stroke-width="0.2" text-anchor="end">80</text><line x1="36.8" y1="499.00" x2="39.0" y2="499.00" stroke="#111" stroke-width="0.8"/><line x1="35.4" y1="482.90" x2="39.0" y2="482.90" stroke="#111" stroke-width="1.0"/><text transform="translate(35.20,486.63) scale(0.86,1)" font-size="10.5" fill="#000" stroke="#000" stroke-width="0.2" text-anchor="end">100</text><line x1="39.00" y1="643.9" x2="39.00" y2="647.0" stroke="#111" stroke-width="1.1"/><text transform="translate(39.00,657.06) scale(0.86,1)" font-size="10.5" fill="#000" stroke="#000" stroke-width="0.2" text-anchor="middle">0</text><line x1="64.36" y1="643.9" x2="64.36" y2="647.0" stroke="#111" stroke-width="1.1"/><text transform="translate(64.36,657.06) scale(0.86,1)" font-size="10.5" fill="#000" stroke="#000" stroke-width="0.2" text-anchor="middle">20</text><line x1="89.72" y1="643.9" x2="89.72" y2="647.0" stroke="#111" stroke-width="1.1"/><text transform="translate(89.72,657.06) scale(0.86,1)" font-size="10.5" fill="#000" stroke="#000" stroke-width="0.2" text-anchor="middle">40</text><line x1="115.08" y1="643.9" x2="115.08" y2="647.0" stroke="#111" stroke-width="1.1"/><text transform="translate(115.08,657.06) scale(0.86,1)" font-size="10.5" fill="#000" stroke="#000" stroke-width="0.2" text-anchor="middle">60</text><line x1="140.44" y1="643.9" x2="140.44" y2="647.0" stroke="#111" stroke-width="1.1"/><text transform="translate(140.44,657.06) scale(0.86,1)" font-size="10.5" fill="#000" stroke="#000" stroke-width="0.2" text-anchor="middle">80</text><line x1="165.80" y1="643.9" x2="165.80" y2="647.0" stroke="#111" stroke-width="1.1"/><text transform="translate(165.80,657.06) scale(0.86,1)" font-size="10.5" fill="#000" stroke="#000" stroke-width="0.2" text-anchor="middle">100</text><line x1="191.16" y1="643.9" x2="191.16" y2="647.0" stroke="#111" stroke-width="1.1"/><text transform="translate(191.16,657.06) scale(0.86,1)" font-size="10.5" fill="#000" stroke="#000" stroke-width="0.2" text-anchor="middle">120</text><line x1="216.52" y1="643.9" x2="216.52" y2="647.0" stroke="#111" stroke-width="1.1"/><text transform="translate(216.52,657.06) scale(0.86,1)" font-size="10.5" fill="#000" stroke="#000" stroke-width="0.2" text-anchor="middle">140</text><line x1="241.88" y1="643.9" x2="241.88" y2="647.0" stroke="#111" stroke-width="1.1"/><text transform="translate(241.88,657.06) scale(0.86,1)" font-size="10.5" fill="#000" stroke="#000" stroke-width="0.2" text-anchor="middle">160</text><line x1="267.24" y1="643.9" x2="267.24" y2="647.0" stroke="#111" stroke-width="1.1"/><text transform="translate(267.24,657.06) scale(0.86,1)" font-size="10.5" fill="#000" stroke="#000" stroke-width="0.2" text-anchor="middle">180</text><line x1="292.60" y1="643.9" x2="292.60" y2="647.0" stroke="#111" stroke-width="1.1"/><text transform="translate(292.60,657.06) scale(0.86,1)" font-size="10.5" fill="#000" stroke="#000" stroke-width="0.2" text-anchor="middle">200</text>
<text x="27.5" y="432" font-size="23.5" font-weight="bold" fill="#000" stroke="#000" stroke-width="0.52" text-anchor="start" >B</text>
<text x="95.75" y="445.5" font-size="17.54" font-weight="bold" fill="#000" stroke="#000" stroke-width="0.39" text-anchor="start" >Overall DLBCL</text>
<text transform="translate(11.7,557.5) rotate(-90)" font-size="15" font-weight="bold" stroke="#000" stroke-width="0.33" text-anchor="middle">OS (%)</text>
<text x="163.3" y="680.8" font-size="14.8" font-weight="normal" fill="#000" stroke="#000" stroke-width="0.15" text-anchor="middle" >Months</text>
<text x="53.8" y="634.5" font-size="12.7" font-weight="bold" fill="#000" stroke="#000" stroke-width="0.28" text-anchor="start" ><tspan font-style="italic">P</tspan> = 0.003</text>
<line x1="95" y1="480.3" x2="100" y2="479.5" stroke="#1FCF1F" stroke-width="1.8"/><line x1="102.4" y1="479.7" x2="103.6" y2="479.7" stroke="#1FCF1F" stroke-width="1.6"/><text x="109.25" y="484.7" font-size="13.13" font-weight="bold" fill="#000" stroke="#000" stroke-width="0.29" text-anchor="start" >IGHV ongoing SHM</text><text x="230.10" y="477.15" font-size="13.39" font-weight="bold" stroke="#000" stroke-width="0.2">–</text><text x="241.63" y="484.7" font-size="13.13" font-weight="bold" fill="#000" stroke="#000" stroke-width="0.29" text-anchor="start" >(n = 85)</text>
<line x1="95.5" y1="502.3" x2="103.3" y2="502.3" stroke="#FF1414" stroke-width="1.25"/><line x1="99.4" y1="502.3" x2="99.4" y2="500.3" stroke="#FF1414" stroke-width="0.9"/><text x="109.25" y="506.4" font-size="13.13" font-weight="bold" fill="#000" stroke="#000" stroke-width="0.29" text-anchor="start" >IGHV ongoing SHM</text><text x="230.10" y="500.75" font-size="9.45" font-weight="bold" stroke="#000" stroke-width="0.3">+</text><text x="240.89" y="506.4" font-size="13.13" font-weight="bold" fill="#000" stroke="#000" stroke-width="0.29" text-anchor="start" >(n = 38)</text>
<path d="M368.20,503.70 H369.88 V507.27 H371.56 V510.84 H373.24 V513.70 H374.91 V515.55 H379.39 V516.98 H385.99 V519.98 H386.66 V526.55 H387.78 V533.26 H389.46 V535.83 H391.25 V537.83 H393.38 V542.97 H395.73 V547.54 H426.84 V547.54 H428.29 V551.11 H431.98 V555.54 H434.22 V560.53 H452.91 V560.53 H453.24 V578.38 H508.07" fill="none" stroke="#1FCF1F" stroke-width="1.9" stroke-dasharray="4.2 2.0"/><path d="M368.20,503.70 H373.57 V503.70 H373.80 V515.55 H374.91 V524.41 H376.48 V543.68 H383.87 V543.68 H384.76 V555.54 H385.99 V566.82 H422.47 V566.82 H422.58 V583.10 H431.31 V583.10 H431.65 V614.80 H479.54 V614.80 H479.54 V646.50" fill="none" stroke="#FF1414" stroke-width="1.3" stroke-linejoin="miter"/><line x1="401.77" y1="547.54" x2="401.77" y2="545.54" stroke="#1FCF1F" stroke-width="1.1"/><line x1="412.96" y1="547.54" x2="412.96" y2="545.54" stroke="#1FCF1F" stroke-width="1.1"/><line x1="420.79" y1="547.54" x2="420.79" y2="545.54" stroke="#1FCF1F" stroke-width="1.1"/><line x1="438.70" y1="560.53" x2="438.70" y2="558.53" stroke="#1FCF1F" stroke-width="1.1"/><line x1="446.53" y1="560.53" x2="446.53" y2="558.53" stroke="#1FCF1F" stroke-width="1.1"/><line x1="462.20" y1="578.38" x2="462.20" y2="576.38" stroke="#1FCF1F" stroke-width="1.1"/><line x1="493.53" y1="578.38" x2="493.53" y2="576.38" stroke="#1FCF1F" stroke-width="1.1"/><line x1="508.07" y1="578.38" x2="508.07" y2="576.38" stroke="#1FCF1F" stroke-width="1.1"/><line x1="378.27" y1="543.68" x2="378.27" y2="541.48" stroke="#FF1414" stroke-width="0.9"/><line x1="392.82" y1="566.82" x2="392.82" y2="564.62" stroke="#FF1414" stroke-width="0.9"/><line x1="398.41" y1="566.82" x2="398.41" y2="564.62" stroke="#FF1414" stroke-width="0.9"/><line x1="445.41" y1="614.80" x2="445.41" y2="612.60" stroke="#FF1414" stroke-width="0.9"/><line x1="368.2" y1="496" x2="368.2" y2="647.25" stroke="#111" stroke-width="1.6"/><line x1="367.4" y1="646.5" x2="592.60" y2="646.5" stroke="#111" stroke-width="1.5"/><line x1="364.59999999999997" y1="646.50" x2="368.2" y2="646.50" stroke="#111" stroke-width="1.0"/><text transform="translate(364.40,649.84) scale(0.9,1)" font-size="9.4" fill="#000" stroke="#000" stroke-width="0.2" text-anchor="end">0</text><line x1="366.0" y1="632.22" x2="368.2" y2="632.22" stroke="#111" stroke-width="0.8"/><line x1="364.59999999999997" y1="617.94" x2="368.2" y2="617.94" stroke="#111" stroke-width="1.0"/><text transform="translate(364.40,621.28) scale(0.9,1)" font-size="9.4" fill="#000" stroke="#000" stroke-width="0.2" text-anchor="end">20</text><line x1="366.0" y1="603.66" x2="368.2" y2="603.66" stroke="#111" stroke-width="0.8"/><line x1="364.59999999999997" y1="589.38" x2="368.2" y2="589.38" stroke="#111" stroke-width="1.0"/><text transform="translate(364.40,592.72) scale(0.9,1)" font-size="9.4" fill="#000" stroke="#000" stroke-width="0.2" text-anchor="end">40</text><line x1="366.0" y1="575.10" x2="368.2" y2="575.10" stroke="#111" stroke-width="0.8"/><line x1="364.59999999999997" y1="560.82" x2="368.2" y2="560.82" stroke="#111" stroke-width="1.0"/><text transform="translate(364.40,564.16) scale(0.9,1)" font-size="9.4" fill="#000" stroke="#000" stroke-width="0.2" text-anchor="end">60</text><line x1="366.0" y1="546.54" x2="368.2" y2="546.54" stroke="#111" stroke-width="0.8"/><line x1="364.59999999999997" y1="532.26" x2="368.2" y2="532.26" stroke="#111" stroke-width="1.0"/><text transform="translate(364.40,535.60) scale(0.9,1)" font-size="9.4" fill="#000" stroke="#000" stroke-width="0.2" text-anchor="end">80</text><line x1="366.0" y1="517.98" x2="368.2" y2="517.98" stroke="#111" stroke-width="0.8"/><line x1="364.59999999999997" y1="503.70" x2="368.2" y2="503.70" stroke="#111" stroke-width="1.0"/><text transform="translate(364.40,507.04) scale(0.9,1)" font-size="9.4" fill="#000" stroke="#000" stroke-width="0.2" text-anchor="end">100</text><line x1="368.20" y1="646.5" x2="368.20" y2="649.6" stroke="#111" stroke-width="1.1"/><text transform="translate(368.20,658.87) scale(0.9,1)" font-size="9.4" fill="#000" stroke="#000" stroke-width="0.2" text-anchor="middle">0</text><line x1="390.58" y1="646.5" x2="390.58" y2="649.6" stroke="#111" stroke-width="1.1"/><text transform="translate(390.58,658.87) scale(0.9,1)" font-size="9.4" fill="#000" stroke="#000" stroke-width="0.2" text-anchor="middle">20</text><line x1="412.96" y1="646.5" x2="412.96" y2="649.6" stroke="#111" stroke-width="1.1"/><text transform="translate(412.96,658.87) scale(0.9,1)" font-size="9.4" fill="#000" stroke="#000" stroke-width="0.2" text-anchor="middle">40</text><line x1="435.34" y1="646.5" x2="435.34" y2="649.6" stroke="#111" stroke-width="1.1"/><text transform="translate(435.34,658.87) scale(0.9,1)" font-size="9.4" fill="#000" stroke="#000" stroke-width="0.2" text-anchor="middle">60</text><line x1="457.72" y1="646.5" x2="457.72" y2="649.6" stroke="#111" stroke-width="1.1"/><text transform="translate(457.72,658.87) scale(0.9,1)" font-size="9.4" fill="#000" stroke="#000" stroke-width="0.2" text-anchor="middle">80</text><line x1="480.10" y1="646.5" x2="480.10" y2="649.6" stroke="#111" stroke-width="1.1"/><text transform="translate(480.10,658.87) scale(0.9,1)" font-size="9.4" fill="#000" stroke="#000" stroke-width="0.2" text-anchor="middle">100</text><line x1="502.48" y1="646.5" x2="502.48" y2="649.6" stroke="#111" stroke-width="1.1"/><text transform="translate(502.48,658.87) scale(0.9,1)" font-size="9.4" fill="#000" stroke="#000" stroke-width="0.2" text-anchor="middle">120</text><line x1="524.86" y1="646.5" x2="524.86" y2="649.6" stroke="#111" stroke-width="1.1"/><text transform="translate(524.86,658.87) scale(0.9,1)" font-size="9.4" fill="#000" stroke="#000" stroke-width="0.2" text-anchor="middle">140</text><line x1="547.24" y1="646.5" x2="547.24" y2="649.6" stroke="#111" stroke-width="1.1"/><text transform="translate(547.24,658.87) scale(0.9,1)" font-size="9.4" fill="#000" stroke="#000" stroke-width="0.2" text-anchor="middle">160</text><line x1="569.62" y1="646.5" x2="569.62" y2="649.6" stroke="#111" stroke-width="1.1"/><text transform="translate(569.62,658.87) scale(0.9,1)" font-size="9.4" fill="#000" stroke="#000" stroke-width="0.2" text-anchor="middle">180</text><line x1="592.00" y1="646.5" x2="592.00" y2="649.6" stroke="#111" stroke-width="1.1"/><text transform="translate(592.00,658.87) scale(0.9,1)" font-size="9.4" fill="#000" stroke="#000" stroke-width="0.2" text-anchor="middle">200</text>
<text x="335.5" y="432" font-size="23.5" font-weight="bold" fill="#000" stroke="#000" stroke-width="0.52" text-anchor="start" >C</text>
<text x="484.9" y="448" font-size="17.6" font-weight="bold" fill="#000" stroke="#000" stroke-width="0.39" text-anchor="middle" >Training set</text>
<text x="485" y="468.75" font-size="17.6" font-weight="bold" stroke="#000" stroke-width="0.38" text-anchor="middle"><tspan font-style="italic">BCL2</tspan>-R<tspan dy="-6" font-size="11.5">−</tspan><tspan dy="6"> DLBCL</tspan></text>
<text transform="translate(343.2,569.8) rotate(-90)" font-size="13.45" font-weight="bold" stroke="#000" stroke-width="0.3" text-anchor="middle">OS (%)</text>
<text x="480.7" y="680.8" font-size="14.8" font-weight="normal" fill="#000" stroke="#000" stroke-width="0.15" text-anchor="middle" >Months</text>
<text x="380.1" y="638" font-size="11.55" font-weight="bold" fill="#000" stroke="#000" stroke-width="0.25" text-anchor="start" ><tspan font-style="italic">P</tspan> = 0.025</text>
<line x1="417.6" y1="501.2" x2="422.6" y2="500.4" stroke="#1FCF1F" stroke-width="1.8"/><line x1="425.0" y1="500.59999999999997" x2="426.20000000000005" y2="500.59999999999997" stroke="#1FCF1F" stroke-width="1.6"/><text x="430.6" y="505.3" font-size="11.55" font-weight="bold" fill="#000" stroke="#000" stroke-width="0.25" text-anchor="start" >IGHV ongoing SHM</text><text x="536.97" y="498.66" font-size="11.78" font-weight="bold" stroke="#000" stroke-width="0.2">–</text><text x="547.05" y="505.3" font-size="11.55" font-weight="bold" fill="#000" stroke="#000" stroke-width="0.25" text-anchor="start" >(n = 33)</text>
<line x1="417.9" y1="519.2" x2="425.7" y2="519.2" stroke="#FF1414" stroke-width="1.25"/><line x1="421.79999999999995" y1="519.2" x2="421.79999999999995" y2="517.2" stroke="#FF1414" stroke-width="0.9"/><text x="430.6" y="524" font-size="11.55" font-weight="bold" fill="#000" stroke="#000" stroke-width="0.25" text-anchor="start" >IGHV ongoing SHM</text><text x="536.97" y="519.03" font-size="8.32" font-weight="bold" stroke="#000" stroke-width="0.3">+</text><text x="546.40" y="524" font-size="11.55" font-weight="bold" fill="#000" stroke="#000" stroke-width="0.25" text-anchor="start" >(n = 14)</text>
<path d="M663.90,503.70 H664.91 V506.56 H666.02 V509.55 H671.84 V509.55 H672.62 V513.70 H673.40 V516.98 H674.74 V519.41 H676.20 V521.41 H678.43 V523.83 H680.67 V525.98 H683.47 V528.26 H686.71 V530.40 H689.61 V532.40 H692.63 V534.26 H708.28 V534.26 H708.51 V539.26 H756.25 V539.26 H756.58 V547.54 H759.27 V547.54 H759.49 V557.68 H794.15" fill="none" stroke="#1FCF1F" stroke-width="1.9" stroke-dasharray="4.2 2.0"/><path d="M663.90,503.70 H672.51 V503.70 H672.62 V516.98 H674.30 V516.98 H674.41 V524.41 H676.20 V524.41 H676.31 V530.97 H684.58 V530.97 H684.69 V537.83 H685.81 V537.83 H685.92 V543.68 H688.16 V543.68 H688.27 V551.97 H689.95 V551.97 H690.06 V560.82 H700.79 V560.82 H700.91 V568.25 H704.48 V568.25 H704.60 V579.24 H738.47 V579.24 H738.58 V592.52 H753.90 V592.52 H754.01 V610.37 H808.90 V610.37 H808.90 V646.50" fill="none" stroke="#FF1414" stroke-width="1.3" stroke-linejoin="miter"/><line x1="697.44" y1="534.26" x2="697.44" y2="532.26" stroke="#1FCF1F" stroke-width="1.1"/><line x1="704.15" y1="534.26" x2="704.15" y2="532.26" stroke="#1FCF1F" stroke-width="1.1"/><line x1="719.80" y1="539.26" x2="719.80" y2="537.26" stroke="#1FCF1F" stroke-width="1.1"/><line x1="730.98" y1="539.26" x2="730.98" y2="537.26" stroke="#1FCF1F" stroke-width="1.1"/><line x1="742.16" y1="539.26" x2="742.16" y2="537.26" stroke="#1FCF1F" stroke-width="1.1"/><line x1="749.99" y1="539.26" x2="749.99" y2="537.26" stroke="#1FCF1F" stroke-width="1.1"/><line x1="770.11" y1="557.68" x2="770.11" y2="555.68" stroke="#1FCF1F" stroke-width="1.1"/><line x1="781.29" y1="557.68" x2="781.29" y2="555.68" stroke="#1FCF1F" stroke-width="1.1"/><line x1="793.59" y1="557.68" x2="793.59" y2="555.68" stroke="#1FCF1F" stroke-width="1.1"/><line x1="718.68" y1="579.24" x2="718.68" y2="577.04" stroke="#FF1414" stroke-width="0.9"/><line x1="727.63" y1="579.24" x2="727.63" y2="577.04" stroke="#FF1414" stroke-width="0.9"/><line x1="751.10" y1="592.52" x2="751.10" y2="590.32" stroke="#FF1414" stroke-width="0.9"/><line x1="765.64" y1="610.37" x2="765.64" y2="608.17" stroke="#FF1414" stroke-width="0.9"/><line x1="663.9" y1="496" x2="663.9" y2="647.25" stroke="#111" stroke-width="1.6"/><line x1="663.1" y1="646.5" x2="888.10" y2="646.5" stroke="#111" stroke-width="1.5"/><line x1="660.3" y1="646.50" x2="663.9" y2="646.50" stroke="#111" stroke-width="1.0"/><text transform="translate(660.10,649.84) scale(0.9,1)" font-size="9.4" fill="#000" stroke="#000" stroke-width="0.2" text-anchor="end">0</text><line x1="661.6999999999999" y1="632.22" x2="663.9" y2="632.22" stroke="#111" stroke-width="0.8"/><line x1="660.3" y1="617.94" x2="663.9" y2="617.94" stroke="#111" stroke-width="1.0"/><text transform="translate(660.10,621.28) scale(0.9,1)" font-size="9.4" fill="#000" stroke="#000" stroke-width="0.2" text-anchor="end">20</text><line x1="661.6999999999999" y1="603.66" x2="663.9" y2="603.66" stroke="#111" stroke-width="0.8"/><line x1="660.3" y1="589.38" x2="663.9" y2="589.38" stroke="#111" stroke-width="1.0"/><text transform="translate(660.10,592.72) scale(0.9,1)" font-size="9.4" fill="#000" stroke="#000" stroke-width="0.2" text-anchor="end">40</text><line x1="661.6999999999999" y1="575.10" x2="663.9" y2="575.10" stroke="#111" stroke-width="0.8"/><line x1="660.3" y1="560.82" x2="663.9" y2="560.82" stroke="#111" stroke-width="1.0"/><text transform="translate(660.10,564.16) scale(0.9,1)" font-size="9.4" fill="#000" stroke="#000" stroke-width="0.2" text-anchor="end">60</text><line x1="661.6999999999999" y1="546.54" x2="663.9" y2="546.54" stroke="#111" stroke-width="0.8"/><line x1="660.3" y1="532.26" x2="663.9" y2="532.26" stroke="#111" stroke-width="1.0"/><text transform="translate(660.10,535.60) scale(0.9,1)" font-size="9.4" fill="#000" stroke="#000" stroke-width="0.2" text-anchor="end">80</text><line x1="661.6999999999999" y1="517.98" x2="663.9" y2="517.98" stroke="#111" stroke-width="0.8"/><line x1="660.3" y1="503.70" x2="663.9" y2="503.70" stroke="#111" stroke-width="1.0"/><text transform="translate(660.10,507.04) scale(0.9,1)" font-size="9.4" fill="#000" stroke="#000" stroke-width="0.2" text-anchor="end">100</text><line x1="663.90" y1="646.5" x2="663.90" y2="649.6" stroke="#111" stroke-width="1.1"/><text transform="translate(663.90,658.87) scale(0.9,1)" font-size="9.4" fill="#000" stroke="#000" stroke-width="0.2" text-anchor="middle">0</text><line x1="686.26" y1="646.5" x2="686.26" y2="649.6" stroke="#111" stroke-width="1.1"/><text transform="translate(686.26,658.87) scale(0.9,1)" font-size="9.4" fill="#000" stroke="#000" stroke-width="0.2" text-anchor="middle">20</text><line x1="708.62" y1="646.5" x2="708.62" y2="649.6" stroke="#111" stroke-width="1.1"/><text transform="translate(708.62,658.87) scale(0.9,1)" font-size="9.4" fill="#000" stroke="#000" stroke-width="0.2" text-anchor="middle">40</text><line x1="730.98" y1="646.5" x2="730.98" y2="649.6" stroke="#111" stroke-width="1.1"/><text transform="translate(730.98,658.87) scale(0.9,1)" font-size="9.4" fill="#000" stroke="#000" stroke-width="0.2" text-anchor="middle">60</text><line x1="753.34" y1="646.5" x2="753.34" y2="649.6" stroke="#111" stroke-width="1.1"/><text transform="translate(753.34,658.87) scale(0.9,1)" font-size="9.4" fill="#000" stroke="#000" stroke-width="0.2" text-anchor="middle">80</text><line x1="775.70" y1="646.5" x2="775.70" y2="649.6" stroke="#111" stroke-width="1.1"/><text transform="translate(775.70,658.87) scale(0.9,1)" font-size="9.4" fill="#000" stroke="#000" stroke-width="0.2" text-anchor="middle">100</text><line x1="798.06" y1="646.5" x2="798.06" y2="649.6" stroke="#111" stroke-width="1.1"/><text transform="translate(798.06,658.87) scale(0.9,1)" font-size="9.4" fill="#000" stroke="#000" stroke-width="0.2" text-anchor="middle">120</text><line x1="820.42" y1="646.5" x2="820.42" y2="649.6" stroke="#111" stroke-width="1.1"/><text transform="translate(820.42,658.87) scale(0.9,1)" font-size="9.4" fill="#000" stroke="#000" stroke-width="0.2" text-anchor="middle">140</text><line x1="842.78" y1="646.5" x2="842.78" y2="649.6" stroke="#111" stroke-width="1.1"/><text transform="translate(842.78,658.87) scale(0.9,1)" font-size="9.4" fill="#000" stroke="#000" stroke-width="0.2" text-anchor="middle">160</text><line x1="865.14" y1="646.5" x2="865.14" y2="649.6" stroke="#111" stroke-width="1.1"/><text transform="translate(865.14,658.87) scale(0.9,1)" font-size="9.4" fill="#000" stroke="#000" stroke-width="0.2" text-anchor="middle">180</text><line x1="887.50" y1="646.5" x2="887.50" y2="649.6" stroke="#111" stroke-width="1.1"/><text transform="translate(887.50,658.87) scale(0.9,1)" font-size="9.4" fill="#000" stroke="#000" stroke-width="0.2" text-anchor="middle">200</text>
<text x="769.5" y="448" font-size="17.6" font-weight="bold" fill="#000" stroke="#000" stroke-width="0.39" text-anchor="middle" >Validation set</text>
<text x="769.3" y="468.75" font-size="17.6" font-weight="bold" fill="#000" stroke="#000" stroke-width="0.39" text-anchor="middle" >DLBCL</text>
<text transform="translate(639.2,569.8) rotate(-90)" font-size="13.45" font-weight="bold" stroke="#000" stroke-width="0.3" text-anchor="middle">OS (%)</text>
<text x="777.5" y="680.8" font-size="14.8" font-weight="normal" fill="#000" stroke="#000" stroke-width="0.15" text-anchor="middle" >Months</text>
<text x="676.3" y="638" font-size="11.55" font-weight="bold" fill="#000" stroke="#000" stroke-width="0.25" text-anchor="start" ><tspan font-style="italic">P</tspan> = 0.018</text>
<line x1="713.2" y1="501.2" x2="718.2" y2="500.4" stroke="#1FCF1F" stroke-width="1.8"/><line x1="720.6" y1="500.59999999999997" x2="721.8000000000001" y2="500.59999999999997" stroke="#1FCF1F" stroke-width="1.6"/><text x="726.2" y="505.3" font-size="11.55" font-weight="bold" fill="#000" stroke="#000" stroke-width="0.25" text-anchor="start" >IGHV ongoing SHM</text><text x="832.57" y="498.66" font-size="11.78" font-weight="bold" stroke="#000" stroke-width="0.2">–</text><text x="842.65" y="505.3" font-size="11.55" font-weight="bold" fill="#000" stroke="#000" stroke-width="0.25" text-anchor="start" >(n = 43)</text>
<line x1="713.5" y1="519.2" x2="721.3" y2="519.2" stroke="#FF1414" stroke-width="1.25"/><line x1="717.4" y1="519.2" x2="717.4" y2="517.2" stroke="#FF1414" stroke-width="0.9"/><text x="726.2" y="524" font-size="11.55" font-weight="bold" fill="#000" stroke="#000" stroke-width="0.25" text-anchor="start" >IGHV ongoing SHM</text><text x="832.57" y="519.03" font-size="8.32" font-weight="bold" stroke="#000" stroke-width="0.3">+</text><text x="842.00" y="524" font-size="11.55" font-weight="bold" fill="#000" stroke="#000" stroke-width="0.25" text-anchor="start" >(n = 21)</text>
<path d="M959.40,503.70 H959.74 V509.55 H967.38 V509.55 H967.61 V516.98 H970.31 V516.98 H970.53 V522.98 H1050.37 V522.98 H1051.83 V533.26 H1054.76 V537.83 H1055.66 V554.68 H1089.50" fill="none" stroke="#1FCF1F" stroke-width="1.9" stroke-dasharray="4.2 2.0"/><path d="M959.40,503.70 H968.28 V503.70 H968.40 V514.12 H971.77 V514.12 H971.88 V524.41 H980.09 V524.41 H980.20 V534.26 H981.67 V534.26 H981.78 V543.68 H983.69 V543.68 H983.80 V557.68 H985.83 V557.68 H985.94 V569.82 H996.40 V569.82 H996.51 V582.81 H999.99 V582.81 H1000.11 V595.52 H1033.50 V595.52 H1033.62 V612.37 H1062.18" fill="none" stroke="#FF1414" stroke-width="1.3" stroke-linejoin="miter"/><line x1="981.89" y1="522.98" x2="981.89" y2="520.98" stroke="#1FCF1F" stroke-width="1.1"/><line x1="993.13" y1="522.98" x2="993.13" y2="520.98" stroke="#1FCF1F" stroke-width="1.1"/><line x1="1002.13" y1="522.98" x2="1002.13" y2="520.98" stroke="#1FCF1F" stroke-width="1.1"/><line x1="1012.25" y1="522.98" x2="1012.25" y2="520.98" stroke="#1FCF1F" stroke-width="1.1"/><line x1="1026.87" y1="522.98" x2="1026.87" y2="520.98" stroke="#1FCF1F" stroke-width="1.1"/><line x1="1038.12" y1="522.98" x2="1038.12" y2="520.98" stroke="#1FCF1F" stroke-width="1.1"/><line x1="1047.11" y1="522.98" x2="1047.11" y2="520.98" stroke="#1FCF1F" stroke-width="1.1"/><line x1="1066.23" y1="554.68" x2="1066.23" y2="552.68" stroke="#1FCF1F" stroke-width="1.1"/><line x1="1076.35" y1="554.68" x2="1076.35" y2="552.68" stroke="#1FCF1F" stroke-width="1.1"/><line x1="1089.50" y1="554.68" x2="1089.50" y2="552.68" stroke="#1FCF1F" stroke-width="1.1"/><line x1="1014.50" y1="595.52" x2="1014.50" y2="593.32" stroke="#FF1414" stroke-width="0.9"/><line x1="1047.11" y1="612.37" x2="1047.11" y2="610.17" stroke="#FF1414" stroke-width="0.9"/><line x1="1062.18" y1="612.37" x2="1062.18" y2="610.17" stroke="#FF1414" stroke-width="0.9"/><line x1="959.4" y1="496" x2="959.4" y2="647.25" stroke="#111" stroke-width="1.6"/><line x1="958.6" y1="646.5" x2="1184.90" y2="646.5" stroke="#111" stroke-width="1.5"/><line x1="955.8" y1="646.50" x2="959.4" y2="646.50" stroke="#111" stroke-width="1.0"/><text transform="translate(955.60,649.84) scale(0.9,1)" font-size="9.4" fill="#000" stroke="#000" stroke-width="0.2" text-anchor="end">0</text><line x1="957.1999999999999" y1="632.22" x2="959.4" y2="632.22" stroke="#111" stroke-width="0.8"/><line x1="955.8" y1="617.94" x2="959.4" y2="617.94" stroke="#111" stroke-width="1.0"/><text transform="translate(955.60,621.28) scale(0.9,1)" font-size="9.4" fill="#000" stroke="#000" stroke-width="0.2" text-anchor="end">20</text><line x1="957.1999999999999" y1="603.66" x2="959.4" y2="603.66" stroke="#111" stroke-width="0.8"/><line x1="955.8" y1="589.38" x2="959.4" y2="589.38" stroke="#111" stroke-width="1.0"/><text transform="translate(955.60,592.72) scale(0.9,1)" font-size="9.4" fill="#000" stroke="#000" stroke-width="0.2" text-anchor="end">40</text><line x1="957.1999999999999" y1="575.10" x2="959.4" y2="575.10" stroke="#111" stroke-width="0.8"/><line x1="955.8" y1="560.82" x2="959.4" y2="560.82" stroke="#111" stroke-width="1.0"/><text transform="translate(955.60,564.16) scale(0.9,1)" font-size="9.4" fill="#000" stroke="#000" stroke-width="0.2" text-anchor="end">60</text><line x1="957.1999999999999" y1="546.54" x2="959.4" y2="546.54" stroke="#111" stroke-width="0.8"/><line x1="955.8" y1="532.26" x2="959.4" y2="532.26" stroke="#111" stroke-width="1.0"/><text transform="translate(955.60,535.60) scale(0.9,1)" font-size="9.4" fill="#000" stroke="#000" stroke-width="0.2" text-anchor="end">80</text><line x1="957.1999999999999" y1="517.98" x2="959.4" y2="517.98" stroke="#111" stroke-width="0.8"/><line x1="955.8" y1="503.70" x2="959.4" y2="503.70" stroke="#111" stroke-width="1.0"/><text transform="translate(955.60,507.04) scale(0.9,1)" font-size="9.4" fill="#000" stroke="#000" stroke-width="0.2" text-anchor="end">100</text><line x1="959.40" y1="646.5" x2="959.40" y2="649.6" stroke="#111" stroke-width="1.1"/><text transform="translate(959.40,658.87) scale(0.9,1)" font-size="9.4" fill="#000" stroke="#000" stroke-width="0.2" text-anchor="middle">0</text><line x1="981.89" y1="646.5" x2="981.89" y2="649.6" stroke="#111" stroke-width="1.1"/><text transform="translate(981.89,658.87) scale(0.9,1)" font-size="9.4" fill="#000" stroke="#000" stroke-width="0.2" text-anchor="middle">20</text><line x1="1004.38" y1="646.5" x2="1004.38" y2="649.6" stroke="#111" stroke-width="1.1"/><text transform="translate(1004.38,658.87) scale(0.9,1)" font-size="9.4" fill="#000" stroke="#000" stroke-width="0.2" text-anchor="middle">40</text><line x1="1026.87" y1="646.5" x2="1026.87" y2="649.6" stroke="#111" stroke-width="1.1"/><text transform="translate(1026.87,658.87) scale(0.9,1)" font-size="9.4" fill="#000" stroke="#000" stroke-width="0.2" text-anchor="middle">60</text><line x1="1049.36" y1="646.5" x2="1049.36" y2="649.6" stroke="#111" stroke-width="1.1"/><text transform="translate(1049.36,658.87) scale(0.9,1)" font-size="9.4" fill="#000" stroke="#000" stroke-width="0.2" text-anchor="middle">80</text><line x1="1071.85" y1="646.5" x2="1071.85" y2="649.6" stroke="#111" stroke-width="1.1"/><text transform="translate(1071.85,658.87) scale(0.9,1)" font-size="9.4" fill="#000" stroke="#000" stroke-width="0.2" text-anchor="middle">100</text><line x1="1094.34" y1="646.5" x2="1094.34" y2="649.6" stroke="#111" stroke-width="1.1"/><text transform="translate(1094.34,658.87) scale(0.9,1)" font-size="9.4" fill="#000" stroke="#000" stroke-width="0.2" text-anchor="middle">120</text><line x1="1116.83" y1="646.5" x2="1116.83" y2="649.6" stroke="#111" stroke-width="1.1"/><text transform="translate(1116.83,658.87) scale(0.9,1)" font-size="9.4" fill="#000" stroke="#000" stroke-width="0.2" text-anchor="middle">140</text><line x1="1139.32" y1="646.5" x2="1139.32" y2="649.6" stroke="#111" stroke-width="1.1"/><text transform="translate(1139.32,658.87) scale(0.9,1)" font-size="9.4" fill="#000" stroke="#000" stroke-width="0.2" text-anchor="middle">160</text><line x1="1161.81" y1="646.5" x2="1161.81" y2="649.6" stroke="#111" stroke-width="1.1"/><text transform="translate(1161.81,658.87) scale(0.9,1)" font-size="9.4" fill="#000" stroke="#000" stroke-width="0.2" text-anchor="middle">180</text><line x1="1184.30" y1="646.5" x2="1184.30" y2="649.6" stroke="#111" stroke-width="1.1"/><text transform="translate(1184.30,658.87) scale(0.9,1)" font-size="9.4" fill="#000" stroke="#000" stroke-width="0.2" text-anchor="middle">200</text>
<text x="1080.5" y="448" font-size="17.6" font-weight="bold" fill="#000" stroke="#000" stroke-width="0.39" text-anchor="middle" >Validation set</text>
<text x="1080.6" y="468.75" font-size="17.6" font-weight="bold" stroke="#000" stroke-width="0.38" text-anchor="middle"><tspan font-style="italic">BCL2</tspan>-R<tspan dy="-6" font-size="11.5">−</tspan><tspan dy="6"> DLBCL</tspan></text>
<text x="1076.6" y="471.9" font-size="11.5" font-weight="bold" stroke="#000" stroke-width="0.2">−</text>
<text transform="translate(934.1,569.8) rotate(-90)" font-size="13.45" font-weight="bold" stroke="#000" stroke-width="0.3" text-anchor="middle">OS (%)</text>
<text x="1073.6" y="680.8" font-size="14.8" font-weight="normal" fill="#000" stroke="#000" stroke-width="0.15" text-anchor="middle" >Months</text>
<text x="971" y="637.6" font-size="11.55" font-weight="bold" fill="#000" stroke="#000" stroke-width="0.25" text-anchor="start" ><tspan font-style="italic">P</tspan> = 0.0056</text>
<line x1="1030.2" y1="508.4" x2="1035.2" y2="507.59999999999997" stroke="#1FCF1F" stroke-width="1.8"/><line x1="1037.6000000000001" y1="507.79999999999995" x2="1038.8" y2="507.79999999999995" stroke="#1FCF1F" stroke-width="1.6"/><text x="1043" y="512.2" font-size="11.55" font-weight="bold" fill="#000" stroke="#000" stroke-width="0.25" text-anchor="start" >IGHV ongoing SHM</text><text x="1149.37" y="505.56" font-size="11.78" font-weight="bold" stroke="#000" stroke-width="0.2">–</text><text x="1159.45" y="512.2" font-size="11.55" font-weight="bold" fill="#000" stroke="#000" stroke-width="0.25" text-anchor="start" >(n = 22)</text>
<line x1="1030.2" y1="624.6" x2="1038.0" y2="624.6" stroke="#FF1414" stroke-width="1.25"/><line x1="1034.1000000000001" y1="624.6" x2="1034.1000000000001" y2="622.6" stroke="#FF1414" stroke-width="0.9"/><text x="1043" y="629.6" font-size="11.55" font-weight="bold" fill="#000" stroke="#000" stroke-width="0.25" text-anchor="start" >IGHV ongoing SHM</text><text x="1149.37" y="624.63" font-size="8.32" font-weight="bold" stroke="#000" stroke-width="0.3">+</text><text x="1158.80" y="629.6" font-size="11.55" font-weight="bold" fill="#000" stroke="#000" stroke-width="0.25" text-anchor="start" >(n = 14)</text>
</svg></body></html>
